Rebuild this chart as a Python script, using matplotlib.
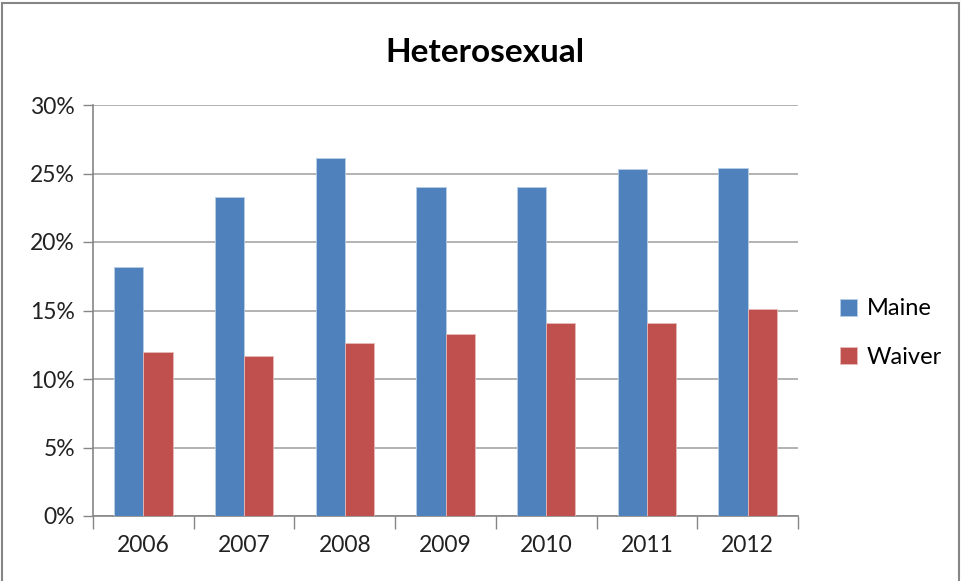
import matplotlib.pyplot as plt
from matplotlib.patches import Rectangle
import numpy as np

plt.rcParams['font.family'] = ['Lato', 'DejaVu Sans']

years = ['2006', '2007', '2008', '2009', '2010', '2011', '2012']
maine = [18.2, 23.3, 26.1, 24.0, 24.0, 25.3, 25.4]
waiver = [12.0, 11.7, 12.6, 13.3, 14.1, 14.1, 15.1]

fig = plt.figure(figsize=(9.63, 5.81), dpi=100)
ax = fig.add_axes([93 / 963, 1 - 516 / 581, 705 / 963, 411 / 581])

x = np.arange(len(years))
w = 0.29
ax.bar(x - w / 2, maine, w, color='#4F81BD', edgecolor='#b9cde5', linewidth=0.6,
       label='Maine', zorder=3)
ax.bar(x + w / 2, waiver, w, color='#C0504D', edgecolor='#e6b9b8', linewidth=0.6,
       label='Waiver', zorder=3)

ax.set_xlim(-0.5, len(years) - 0.5)
ax.set_ylim(0, 30)
ax.set_yticks(range(0, 31, 5))
ax.set_yticklabels([f'{v}%' for v in range(0, 31, 5)])
ax.set_xticks(x)
ax.set_xticklabels(years)
ax.set_xticks(np.arange(-0.5, len(years), 1), minor=True)
ax.tick_params(axis='x', which='major', length=0, pad=14)
ax.tick_params(axis='x', which='minor', length=9, color='#868686', width=1)
ax.tick_params(axis='y', length=7, color='#868686', width=1, pad=6)
ax.tick_params(labelsize=16.5, labelcolor='#222222')

ax.grid(axis='y', color='#a6a6a6', linewidth=1.2, zorder=0)
for s in ['top', 'right']:
    ax.spines[s].set_visible(False)
for s in ['left', 'bottom']:
    ax.spines[s].set_color('#868686')
    ax.spines[s].set_linewidth(1.2)

fig.text(485 / 963, 1 - 53 / 581, 'Heterosexual', ha='center', va='center',
         fontsize=24, fontweight='bold', color='black')

fig.legend(loc='upper left', bbox_to_anchor=(831 / 963, 1 - 289 / 581),
           frameon=False, fontsize=17, handlelength=0.72, handleheight=0.72,
           handletextpad=0.4, labelspacing=1.15, borderaxespad=0)

fig.patches.append(Rectangle((2 / 963, -0.01), 957 / 963, 1 - 3 / 581 + 0.01,
                             transform=fig.transFigure, fill=False,
                             edgecolor='#868686', linewidth=1.5))

fig.savefig('out.png', dpi=100)
